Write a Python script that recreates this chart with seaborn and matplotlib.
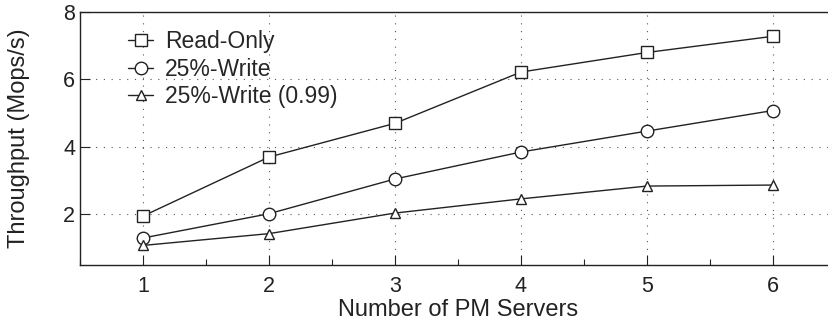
import matplotlib
matplotlib.use("Agg")
import matplotlib.pyplot as plt
from matplotlib.ticker import MultipleLocator
import pandas as pd
import seaborn as sns

servers = [1, 2, 3, 4, 5, 6]
read_only = [1.95, 3.7, 4.7, 6.22, 6.8, 7.28]
write_25 = [1.3, 2.02, 3.05, 3.85, 4.47, 5.08]
write_25_skew = [1.08, 1.43, 2.04, 2.46, 2.84, 2.87]
series_names = ["Read-Only", "25%-Write", "25%-Write (0.99)"]
y_ticks = [2, 4, 6, 8]

df = pd.DataFrame({
    "servers": servers * 3,
    "throughput": read_only + write_25 + write_25_skew,
    "series": [n for n in series_names for _ in servers],
})

sns.set_style("ticks")
plt.rcParams["font.family"] = ["Liberation Sans", "DejaVu Sans"]

ink = "#222222"
fig = plt.figure(figsize=(8.29, 3.23), dpi=100)
ax = fig.add_axes([80 / 829, 1 - 265 / 323, 756 / 829, 253 / 323])

sns.lineplot(
    data=df, x="servers", y="throughput", hue="series", style="series",
    markers={"Read-Only": "s", "25%-Write": "o", "25%-Write (0.99)": "^"},
    dashes=False, palette=[ink] * 3, ax=ax,
    markersize=8.5, markerfacecolor="white", markeredgecolor=ink,
    markeredgewidth=1.0, linewidth=1.0,
)
for line in ax.lines:
    if line.get_marker() == "o":
        line.set_markersize(9)
    if line.get_marker() == "^":
        line.set_markersize(7)

ax.set_xlim(0.5, 6.5)
ax.set_ylim(0.5, 8)
ax.set_xticks(servers)
ax.xaxis.set_minor_locator(MultipleLocator(0.5))
ax.set_yticks(y_ticks)
ax.tick_params(axis="both", which="major", direction="in", length=7, width=0.8,
               labelsize=15.5, colors=ink)
ax.tick_params(axis="x", which="minor", direction="in", length=4, width=0.8)
ax.tick_params(axis="x", pad=8)
ax.grid(True, which="major", linestyle=(0, (1, 6)), color="#555555", linewidth=0.8)
for s in ax.spines.values():
    s.set_linewidth(1.0)
    s.set_color(ink)

ax.set_xlabel("Number of PM Servers", fontsize=17, color=ink, labelpad=1)
ax.set_ylabel("Throughput (Mops/s)", fontsize=17, color=ink, labelpad=24)

leg = ax.legend(frameon=False, loc="upper left", bbox_to_anchor=(0.052, 0.965),
                fontsize=16.5, handlelength=1.05, handletextpad=0.55,
                labelspacing=0.2, borderaxespad=0)
for h in leg.legend_handles:
    h.set_markerfacecolor("white")
    h.set_markeredgecolor(ink)

fig.savefig("out.png", dpi=100)
